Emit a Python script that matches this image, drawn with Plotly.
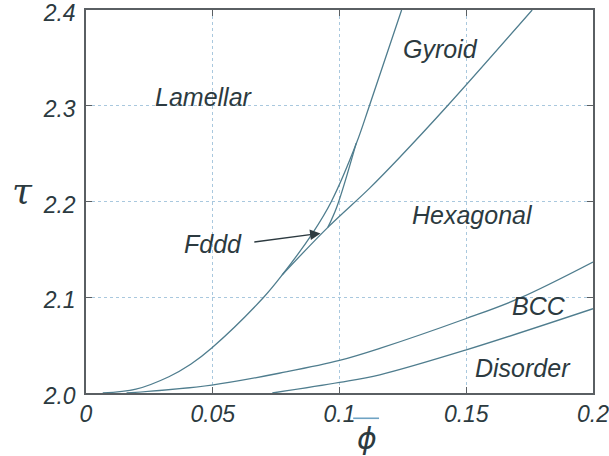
import plotly.graph_objects as go

# ---- data ----
lam_phi = [0.0066, 0.0197, 0.0327, 0.0413, 0.0496, 0.0701, 0.0776, 0.0894, 0.0968, 0.1067, 0.1118, 0.1245]
lam_tau = [2.000, 2.004, 2.017, 2.030, 2.047, 2.100, 2.124, 2.167, 2.200, 2.261, 2.300, 2.400]

hex_phi = [0.0776, 0.0954, 0.1119, 0.1237, 0.1426, 0.176]
hex_tau = [2.124, 2.173, 2.214, 2.246, 2.300, 2.400]

fddd_phi = [0.0954, 0.0989, 0.1066]
fddd_tau = [2.173, 2.194, 2.261]

bcc_phi = [0.016, 0.0496, 0.0788, 0.100, 0.1159, 0.150, 0.171, 0.200]
bcc_tau = [2.000, 2.0083, 2.022, 2.034, 2.0466, 2.0778, 2.099, 2.1368]

dis_phi = [0.0735, 0.100, 0.1159, 0.150, 0.200]
dis_tau = [2.000, 2.011, 2.019, 2.045, 2.088]

x_ticks = [0, 0.05, 0.1, 0.15, 0.2]
x_ticktext = ["0", "0.05", "0.1", "0.15", "0.2"]
y_ticks = [2.0, 2.1, 2.2, 2.3, 2.4]
y_ticktext = ["2.0", "2.1", "2.2", "2.3", "2.4"]

phase_labels = ["Lamellar", "Gyroid", "Hexagonal", "BCC", "Disorder"]
phase_phi = [0.0467, 0.140, 0.1526, 0.1787, 0.1725]
phase_tau = [2.309, 2.359, 2.186, 2.091, 2.026]

fddd_label = "Fddd"
fddd_label_pos = (0.050, 2.156)
fddd_arrow_tail = (0.0658, 2.1575)
fddd_arrow_tip = (0.0925, 2.1667)

# ---- styling ----
CURVE = "#4f7d8e"
GRID = "#a9c8de"
AXIS = "#5a5f63"
TEXT = "#2c3a40"
FONT = "Liberation Sans"

fig = go.Figure()
for xs, ys in [(lam_phi, lam_tau), (hex_phi, hex_tau), (fddd_phi, fddd_tau),
               (bcc_phi, bcc_tau), (dis_phi, dis_tau)]:
    fig.add_trace(go.Scatter(x=xs, y=ys, mode="lines",
                             line=dict(color=CURVE, width=1.3, shape="spline", smoothing=1.0),
                             showlegend=False, hoverinfo="skip", cliponaxis=True))

for t, px, py in zip(phase_labels, phase_phi, phase_tau):
    fig.add_annotation(x=px, y=py, text=t, showarrow=False,
                       font=dict(family=FONT, size=25, color=TEXT, style="italic"))

fig.add_annotation(x=fddd_label_pos[0], y=fddd_label_pos[1], text=fddd_label, showarrow=False,
                   font=dict(family=FONT, size=25, color=TEXT, style="italic"))
fig.add_annotation(x=fddd_arrow_tip[0], y=fddd_arrow_tip[1],
                   ax=fddd_arrow_tail[0], ay=fddd_arrow_tail[1],
                   axref="x", ayref="y", xref="x", yref="y", text="",
                   showarrow=True, arrowhead=2, arrowsize=1.6, arrowwidth=1.3,
                   arrowcolor="#2c3a40")

# axis symbols
fig.add_annotation(xref="paper", yref="paper", x=-0.126, y=0.53, text="τ", showarrow=False,
                   xanchor="center", yanchor="middle",
                   font=dict(family="DejaVu Serif", size=36, color=TEXT, style="italic"))
fig.add_annotation(xref="paper", yref="paper", x=0.555, y=-0.118, text="ϕ", showarrow=False,
                   xanchor="center", yanchor="middle",
                   font=dict(family="DejaVu Sans", size=30, color=TEXT, style="italic"))
fig.add_shape(type="line", xref="paper", yref="paper", x0=0.527, x1=0.578, y0=-0.066, y1=-0.066,
              line=dict(color="#6fa3c3", width=1.6))

fig.update_xaxes(range=[0, 0.2], tickvals=x_ticks, ticktext=x_ticktext,
                 showgrid=True, gridcolor=GRID, griddash="dot", gridwidth=1,
                 showline=True, linecolor=AXIS, linewidth=1.5, mirror="allticks",
                 ticks="inside", ticklen=6, tickcolor=AXIS, zeroline=False,
                 automargin=False, ticklabeloverflow="allow", ticklabelstandoff=0,
                 tickfont=dict(family=FONT, size=23, color=TEXT, style="italic"))
fig.update_yaxes(range=[2.0, 2.4], tickvals=y_ticks, ticktext=y_ticktext,
                 showgrid=True, gridcolor=GRID, griddash="dot", gridwidth=1,
                 showline=True, linecolor=AXIS, linewidth=1.5, mirror="allticks",
                 ticks="inside", ticklen=6, tickcolor=AXIS, zeroline=False,
                 automargin=False, ticklabeloverflow="allow", ticklabelstandoff=4,
                 ticklabelshift=3,
                 tickfont=dict(family=FONT, size=23, color=TEXT, style="italic"))

fig.update_layout(width=609, height=456, margin=dict(l=86, r=16, t=10, b=63),
                  paper_bgcolor="white", plot_bgcolor="white", showlegend=False)

fig.write_html("out.html", config={"displayModeBar": False},
               post_script="document.body.style.margin='0';document.body.style.overflow='hidden';")
